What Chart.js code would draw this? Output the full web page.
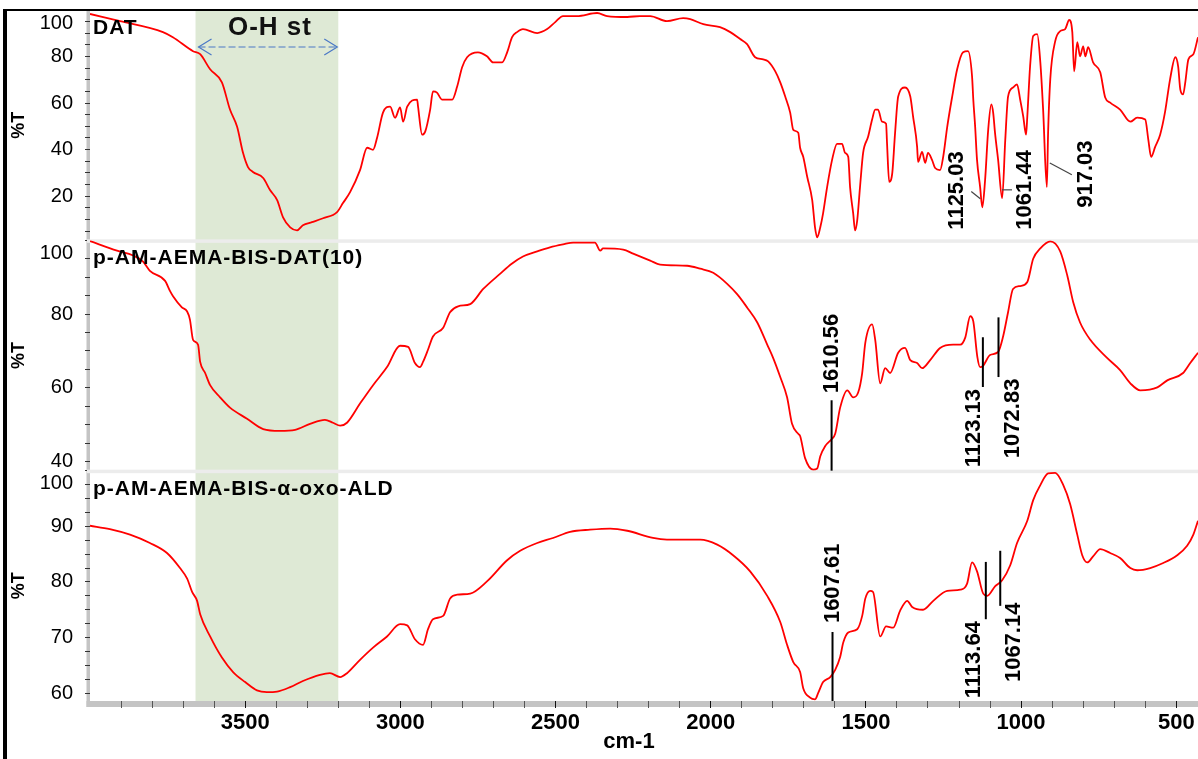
<!DOCTYPE html>
<html>
<head>
<meta charset="utf-8">
<title>FTIR spectra</title>
<script src="https://cdn.jsdelivr.net/npm/chart.js@4.4.1/dist/chart.umd.min.js"></script>
<style>
  html, body { margin: 0; padding: 0; background: #fff; }
  canvas { display: block; }
</style>
</head>
<body>
<canvas id="ftirChart" width="1198" height="759"></canvas>
<script>
// ---- spectra: wavenumber (cm-1) / transmittance (%T) ----
const datWn = [
  4000, 3903, 3765, 3733, 3668, 3645, 3613, 3575, 3549, 3526,
  3507, 3491, 3475, 3442, 3420, 3397, 3378, 3355, 3333, 3314,
  3285, 3249, 3204, 3185, 3162, 3130, 3107, 3088, 3075, 3056,
  3033, 3017, 3001, 2991, 2978, 2946, 2943, 2930, 2920, 2904,
  2895, 2882, 2866, 2833, 2817, 2801, 2785, 2750, 2721, 2701,
  2672, 2656, 2640, 2624, 2605, 2559, 2527, 2501, 2476, 2431,
  2366, 2334, 2269, 2228, 2195, 2141, 2089, 2066, 2024, 1970,
  1937, 1905, 1883, 1857, 1831, 1815, 1792, 1776, 1760, 1744,
  1734, 1718, 1712, 1702, 1689, 1673, 1664, 1657, 1647, 1638,
  1625, 1609, 1593, 1577, 1567, 1557, 1551, 1541, 1535, 1528,
  1519, 1509, 1493, 1480, 1470, 1461, 1448, 1435, 1432, 1425,
  1415, 1406, 1396, 1374, 1357, 1348, 1335, 1332, 1319, 1309,
  1300, 1287, 1277, 1261, 1251, 1238, 1222, 1206, 1187, 1171,
  1158, 1154, 1148, 1142, 1132, 1125, 1116, 1106, 1096, 1090,
  1084, 1074, 1061, 1051, 1042, 1026, 1013, 1003, 993, 984,
  980, 971, 961, 948, 938, 929, 917, 913, 906, 890,
  874, 858, 845, 835, 829, 819, 810, 800, 793, 784,
  768, 745, 729, 713, 681, 648, 626, 600, 590, 581,
  568, 552, 536, 520, 503, 494, 487, 478, 471, 461,
  445, 430
];
const datT = [
  98.3, 95.2, 90.5, 88.3, 82.3, 81.0, 74.5, 68.9, 57.2, 49.8,
  38.6, 32.5, 30.4, 27.8, 22.6, 18.3, 10.9, 6.6, 5.3, 7.5,
  8.8, 10.5, 13.1, 17.0, 21.7, 31.2, 40.8, 39.9, 45.1, 55.9,
  58.5, 53.7, 58.1, 52.0, 58.5, 61.5, 58.5, 46.4, 47.7, 57.2,
  65.0, 64.5, 61.5, 61.5, 67.1, 75.4, 79.7, 81.8, 80.1, 77.5,
  77.5, 81.8, 88.3, 90.5, 91.8, 90.1, 91.8, 94.8, 97.4, 97.4,
  98.7, 97.4, 97.0, 97.4, 97.4, 95.2, 96.5, 96.1, 93.9, 92.6,
  90.5, 87.5, 85.3, 79.7, 78.8, 77.9, 73.6, 68.9, 62.8, 55.9,
  48.5, 47.2, 40.8, 36.9, 28.2, 18.3, 6.6, 2.3, 6.6, 12.6,
  23.9, 35.6, 42.5, 42.5, 38.6, 36.9, 23.9, 12.6, 5.3, 9.6,
  23.9, 38.6, 45.5, 52.9, 57.2, 57.2, 52.0, 51.1, 42.9, 26.1,
  30.0, 47.2, 62.8, 66.7, 62.8, 54.2, 41.2, 34.7, 39.0, 34.3,
  38.6, 35.6, 32.1, 31.2, 36.9, 49.8, 62.8, 74.5, 81.8, 82.3,
  71.5, 61.5, 49.8, 35.6, 23.9, 15.2, 26.9, 48.5, 59.4, 55.9,
  47.2, 35.6, 19.1, 44.2, 62.8, 66.7, 68.0, 61.5, 54.2, 46.4,
  54.2, 75.8, 88.8, 89.6, 77.5, 57.2, 23.9, 47.2, 70.2, 86.6,
  90.9, 91.8, 95.7, 90.5, 73.6, 86.2, 80.1, 84.4, 80.1, 84.0,
  77.5, 73.2, 62.4, 60.2, 57.2, 52.0, 53.7, 52.9, 44.2, 36.9,
  41.2, 46.4, 56.3, 70.2, 79.7, 75.8, 65.8, 63.7, 68.9, 78.8,
  81.0, 88.3
];

// p-AM-AEMA-BIS-DAT(10)
const gelWn = [
  4000, 3913, 3861, 3829, 3807, 3758, 3742, 3733, 3704, 3687,
  3678, 3668, 3652, 3645, 3629, 3613, 3581, 3549, 3494, 3442,
  3388, 3339, 3291, 3243, 3217, 3194, 3172, 3130, 3088, 3043,
  3001, 2975, 2953, 2937, 2927, 2911, 2895, 2862, 2840, 2814,
  2775, 2733, 2679, 2640, 2605, 2559, 2518, 2476, 2443, 2373,
  2356, 2347, 2282, 2250, 2195, 2163, 2076, 2034, 1992, 1947,
  1915, 1883, 1850, 1818, 1799, 1776, 1754, 1738, 1718, 1712,
  1696, 1670, 1657, 1647, 1631, 1610, 1599, 1583, 1560, 1541,
  1525, 1512, 1502, 1480, 1470, 1454, 1438, 1422, 1396, 1374,
  1357, 1335, 1319, 1293, 1261, 1219, 1196, 1180, 1164, 1154,
  1141, 1132, 1123, 1100, 1074, 1058, 1042, 1026, 1003, 980,
  961, 938, 906, 874, 851, 832, 810, 777, 723, 681,
  648, 616, 561, 529, 478, 455, 430
];
const gelT = [
  99.8, 97.2, 95.9, 94.2, 91.7, 89.0, 86.2, 84.9, 81.8, 80.7,
  78.5, 73.0, 71.7, 67.0, 64.0, 60.7, 57.4, 54.6, 51.6, 48.8,
  48.3, 48.6, 50.2, 51.3, 50.5, 49.7, 50.5, 55.7, 60.7, 65.6,
  71.4, 71.1, 66.7, 65.6, 67.0, 70.3, 73.9, 76.3, 80.5, 82.1,
  82.7, 86.8, 90.9, 93.7, 95.6, 97.0, 98.1, 98.9, 99.4, 99.4,
  97.2, 97.8, 97.5, 96.4, 94.5, 93.4, 93.1, 92.3, 91.2, 88.2,
  85.4, 81.8, 77.7, 71.7, 68.1, 62.9, 57.4, 50.2, 47.5, 46.9,
  40.9, 37.8, 38.1, 41.4, 44.2, 46.1, 47.5, 54.6, 59.3, 57.4,
  58.7, 64.0, 72.2, 77.2, 73.0, 61.2, 65.3, 64.0, 69.5, 70.8,
  67.5, 66.7, 65.3, 67.5, 70.8, 71.7, 71.7, 73.6, 79.4, 78.0,
  68.4, 65.6, 65.9, 68.9, 69.7, 73.9, 80.5, 86.8, 87.6, 88.7,
  95.0, 97.8, 99.7, 97.0, 90.4, 83.2, 77.7, 73.0, 68.1, 64.8,
  61.2, 59.3, 60.1, 62.0, 64.0, 66.7, 69.5
];

// p-AM-AEMA-BIS-α-oxo-ALD
const aldWn = [
  4000, 3936, 3871, 3807, 3752, 3710, 3687, 3671, 3655, 3645,
  3613, 3575, 3539, 3500, 3462, 3430, 3397, 3355, 3314, 3259,
  3227, 3194, 3172, 3130, 3088, 3043, 3001, 2978, 2953, 2927,
  2911, 2895, 2862, 2840, 2817, 2775, 2721, 2656, 2614, 2559,
  2508, 2453, 2389, 2324, 2269, 2186, 2141, 2034, 1979, 1928,
  1873, 1818, 1776, 1754, 1734, 1712, 1702, 1680, 1664, 1654,
  1638, 1615, 1599, 1583, 1573, 1557, 1528, 1512, 1502, 1486,
  1477, 1454, 1435, 1412, 1390, 1367, 1351, 1316, 1283, 1238,
  1196, 1174, 1158, 1142, 1122, 1109, 1084, 1061, 1035, 1013,
  980, 961, 938, 913, 890, 864, 842, 819, 803, 787,
  768, 745, 713, 681, 648, 626, 584, 542, 497, 465,
  445, 430
];
const aldT = [
  90.1, 89.5, 88.5, 87.0, 85.2, 82.5, 80.6, 78.2, 76.6, 74.2,
  70.2, 66.4, 63.8, 62.0, 60.5, 60.2, 60.3, 61.1, 62.2, 63.3,
  63.6, 62.9, 63.6, 66.0, 68.2, 70.2, 72.4, 72.2, 69.7, 68.7,
  71.5, 73.3, 73.9, 77.0, 77.7, 77.9, 80.1, 83.9, 85.6, 87.0,
  87.9, 89.0, 89.4, 89.6, 89.2, 87.9, 87.6, 87.6, 86.7, 84.8,
  81.9, 77.5, 72.8, 68.7, 65.6, 63.8, 60.9, 59.2, 58.9, 60.0,
  62.0, 62.9, 64.2, 66.5, 69.1, 70.9, 71.5, 73.9, 77.0, 78.4,
  78.2, 70.2, 72.0, 71.8, 74.8, 76.6, 75.5, 75.0, 76.6, 78.4,
  78.6, 79.7, 83.5, 81.9, 77.9, 77.5, 79.2, 80.3, 83.0, 87.0,
  91.0, 94.7, 97.4, 99.5, 99.6, 97.4, 94.0, 88.5, 84.8, 83.5,
  84.6, 85.9, 85.2, 84.3, 82.5, 82.1, 82.5, 83.4, 84.8, 86.5,
  88.5, 91.0
];

// ---- axes / annotations ----
const panelNames = ['DAT', 'p-AM-AEMA-BIS-DAT(10)', 'p-AM-AEMA-BIS-α-oxo-ALD'];
const panelRanges = [[1, 100], [37.5, 100], [58.6, 100]];
const majorSteps = [20, 20, 10];
const minorSteps = [5, 5, 2.5];
const xRange = [430, 4000];
const xTickLabels = [3500, 3000, 2500, 2000, 1500, 1000, 500];
const ohBand = [3660, 3200];
const ohLabel = 'O-H st';
const datPeaks = [1125.03, 1061.44, 917.03];
const gelPeaks = [1610.56, 1123.13, 1072.83];
const aldPeaks = [1607.61, 1113.64, 1067.14];

const FONT = "'Liberation Sans', Arial, Helvetica, sans-serif";
const axisIds = ['yDat', 'yGel', 'yAld'];
const spectra = [[datWn, datT], [gelWn, gelT], [aldWn, aldT]];
const peaks = [datPeaks, gelPeaks, aldPeaks];

// where each peak label sits: dx = text offset from the peak (px), from = %T where the text starts,
// line = marker segment in %T, leader = [dx1, %T1, dx2, %T2] thin pointer
const peakLayout = [
  [
    { dx: -25, from: 5.6, leader: [-11, 22.0, -2, 18.9] },
    { dx: 23, from: 5.6, leader: [0, 22.7, 10, 22.7] },
    { dx: 39, from: 15.0, leader: [3, 34.2, 25, 29.2] }
  ],
  [
    { dx: 0.5, from: 58.5, line: [56.6, 37.5] },
    { dx: -9, from: 38.4, line: [73.7, 60.2] },
    { dx: 14.5, from: 40.9, line: [79.1, 62.9] }
  ],
  [
    { dx: 0, from: 72.6, line: [71.0, 58.6] },
    { dx: -11.5, from: 59.1, line: [83.6, 73.3] },
    { dx: 14, from: 62.0, line: [85.6, 75.7] }
  ]
];

function panelAxis(i) {
  const [min, max] = panelRanges[i];
  return {
    type: 'linear',
    position: 'left',
    stack: 'spectra',
    stackWeight: 1,
    weight: 3 - i,
    min: min,
    max: max,
    afterFit: scale => {
      scale.width = 90;
      // no extra room for half labels at the ends; panels butt against each other
      scale.paddingTop = 0;
      scale.paddingBottom = 0;
    },
    afterBuildTicks: scale => {
      const step = minorSteps[i];
      const ticks = [];
      for (let v = Math.ceil(min / step) * step; v <= max + 1e-6; v += step) {
        ticks.push({ value: Math.round(v * 10) / 10 });
      }
      scale.ticks = ticks;
    },
    border: { display: false },
    grid: { drawOnChartArea: false, tickLength: 5, tickWidth: 1, tickColor: '#333' },
    ticks: {
      autoSkip: false,
      padding: 12,
      color: '#000',
      font: { family: FONT, size: 20 },
      // the top value is drawn separately, just below its tick
      callback: v => (v % majorSteps[i] === 0 && v !== max) ? String(v) : ''
    },
    title: {
      display: true,
      text: '%T',
      color: '#000',
      font: { family: FONT, size: 18, weight: 'bold' },
      padding: { top: 8, bottom: 0 }
    }
  };
}

const decorations = {
  id: 'decorations',
  beforeDraw(chart) {
    const { ctx, chartArea: a } = chart;
    ctx.save();
    ctx.fillStyle = '#c4c4c4';
    ctx.fillRect(a.left - 3.5, a.top, 3.5, a.bottom - a.top + 6);
    ctx.fillRect(a.left - 3.5, a.bottom, a.right - a.left + 3.5, 6);
    ctx.restore();
  },
  beforeDatasetsDraw(chart) {
    const { ctx, chartArea: a, scales } = chart;
    const x0 = scales.x.getPixelForValue(ohBand[0]);
    const x1 = scales.x.getPixelForValue(ohBand[1]);
    ctx.save();
    ctx.fillStyle = '#dee9d5';
    ctx.fillRect(x0, a.top, x1 - x0, a.bottom - a.top);
    // light separators between the stacked panels
    ctx.fillStyle = '#ececec';
    for (const id of axisIds.slice(1)) {
      ctx.fillRect(a.left - 3, scales[id].top - 1, a.right - a.left + 3, 3.5);
    }
    ctx.restore();
  },
  afterDatasetsDraw(chart) {
    const { ctx, chartArea: a, scales } = chart;
    const xs = scales.x;
    ctx.save();

    // sample names
    ctx.fillStyle = '#000';
    ctx.font = `bold 21px ${FONT}`;
    ctx.letterSpacing = '1px';
    ctx.textAlign = 'left';
    ctx.textBaseline = 'alphabetic';
    panelNames.forEach((name, i) => {
      ctx.fillText(name, a.left + 3, scales[axisIds[i]].top + 24);
    });

    // O-H stretching label with its dashed double arrow
    const bx0 = xs.getPixelForValue(ohBand[0]);
    const bx1 = xs.getPixelForValue(ohBand[1]);
    ctx.font = `bold 26px ${FONT}`;
    ctx.textAlign = 'center';
    ctx.fillStyle = '#111';
    ctx.fillText(ohLabel, (bx0 + bx1) / 2 + 3, a.top + 25);
    ctx.letterSpacing = '0px';

    const ay = a.top + 37;
    ctx.strokeStyle = '#4a78c6';
    ctx.lineWidth = 1.2;
    ctx.setLineDash([7, 3]);
    ctx.beginPath();
    ctx.moveTo(bx0 + 3, ay);
    ctx.lineTo(bx1 - 1, ay);
    ctx.stroke();
    ctx.setLineDash([]);
    ctx.beginPath();
    ctx.moveTo(bx0 + 16, ay - 8); ctx.lineTo(bx0 + 3, ay); ctx.lineTo(bx0 + 16, ay + 8);
    ctx.moveTo(bx1 - 14, ay - 8); ctx.lineTo(bx1 - 1, ay); ctx.lineTo(bx1 - 14, ay + 8);
    ctx.stroke();

    // peak positions
    ctx.font = `bold 22px ${FONT}`;
    ctx.fillStyle = '#000';
    peaks.forEach((list, i) => {
      const ys = scales[axisIds[i]];
      list.forEach((wn, j) => {
        const lay = peakLayout[i][j];
        const px = xs.getPixelForValue(wn);
        if (lay.line) {
          ctx.strokeStyle = '#000';
          ctx.lineWidth = 2;
          ctx.beginPath();
          ctx.moveTo(px, ys.getPixelForValue(lay.line[0]));
          ctx.lineTo(px, ys.getPixelForValue(lay.line[1]));
          ctx.stroke();
        }
        if (lay.leader) {
          const [d1, v1, d2, v2] = lay.leader;
          ctx.strokeStyle = '#444';
          ctx.lineWidth = 1.2;
          ctx.beginPath();
          ctx.moveTo(px + d1, ys.getPixelForValue(v1));
          ctx.lineTo(px + d2, ys.getPixelForValue(v2));
          ctx.stroke();
        }
        ctx.save();
        ctx.translate(px + lay.dx, ys.getPixelForValue(lay.from));
        ctx.rotate(-Math.PI / 2);
        ctx.textAlign = 'left';
        ctx.textBaseline = 'middle';
        ctx.fillText(wn.toFixed(2), 0, 0);
        ctx.restore();
      });
    });
    ctx.restore();
  },
  afterDraw(chart) {
    const { ctx, chartArea: a, scales } = chart;
    ctx.save();
    // top value of each %T axis, nudged inside its panel
    ctx.fillStyle = '#000';
    ctx.font = `20px ${FONT}`;
    ctx.textAlign = 'right';
    ctx.textBaseline = 'middle';
    axisIds.forEach((id, i) => {
      const s = scales[id];
      ctx.fillText(String(panelRanges[i][1]), s.right - 17, s.getPixelForValue(panelRanges[i][1]) + 13);
    });

    // x axis title
    ctx.font = `bold 22px ${FONT}`;
    ctx.textAlign = 'center';
    ctx.fillText('cm-1', (a.left + a.right) / 2 - 15, a.bottom + 41);

    // black frame on the left and top
    ctx.fillRect(3, 9, chart.width - 3, 2);
    ctx.fillRect(3, 9, 4, chart.height - 9);
    ctx.restore();
  }
};

const datasets = spectra.map(([wn, t], i) => ({
  label: panelNames[i],
  data: wn.map((w, k) => ({ x: w, y: t[k] })),
  yAxisID: axisIds[i],
  borderColor: '#ff0000',
  borderWidth: 1.8,
  pointRadius: 0,
  cubicInterpolationMode: 'monotone',
  fill: false
}));

const scales = {
  x: {
    type: 'linear',
    reverse: true,
    min: xRange[0],
    max: xRange[1],
    afterFit: scale => {
      scale.height = 58;
      scale.paddingLeft = 0;
      scale.paddingRight = 0;
    },
    afterBuildTicks: scale => {
      const ticks = [];
      for (let v = 500; v <= 3900; v += 100) ticks.push({ value: v });
      scale.ticks = ticks;
    },
    border: { display: false },
    grid: {
      drawOnChartArea: false,
      tickLength: 7,
      tickWidth: 1,
      tickColor: c => (c.tick && xTickLabels.includes(c.tick.value)) ? '#111' : '#555'
    },
    ticks: {
      autoSkip: false,
      maxRotation: 0,
      padding: 2,
      color: '#000',
      font: { family: FONT, size: 22, weight: 'bold' },
      callback: v => xTickLabels.includes(v) ? String(v) : ''
    }
  }
};
axisIds.forEach((id, i) => { scales[id] = panelAxis(i); });

new Chart(document.getElementById('ftirChart'), {
  type: 'line',
  data: { datasets: datasets },
  options: {
    responsive: false,
    animation: false,
    devicePixelRatio: 1,
    layout: { padding: { top: 10, left: 0, right: 0, bottom: 0 } },
    plugins: {
      legend: { display: false },
      tooltip: { enabled: false }
    },
    scales: scales
  },
  plugins: [decorations]
});
</script>
</body>
</html>
